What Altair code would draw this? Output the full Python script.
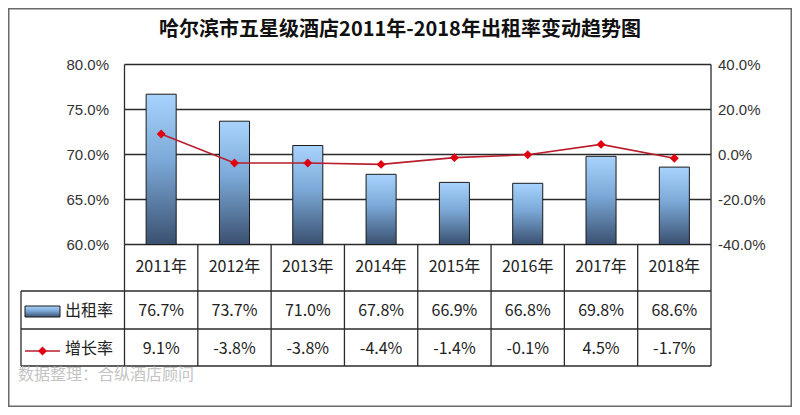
import altair as alt
import pandas as pd

# ---------------- data ----------------
years = ["2011年", "2012年", "2013年", "2014年", "2015年", "2016年", "2017年", "2018年"]
occupancy = [76.7, 73.7, 71.0, 67.8, 66.9, 66.8, 69.8, 68.6]
growth = [9.1, -3.8, -3.8, -4.4, -1.4, -0.1, 4.5, -1.7]
left_ticks = [80, 75, 70, 65, 60]
right_ticks = [40, 20, 0, -20, -40]
title_text = "哈尔滨市五星级酒店2011年-2018年出租率变动趋势图"
series_names = ["出租率", "增长率"]
source_note = "数据整理：合纵酒店顾问"

# ---------------- layout (chart pixel space) ----------------
W, H = 784, 399
PL, PR, PT, PB = 116.5, 703.0, 56.5, 236.5
R1, R2, R3 = 283.0, 321.0, 358.0
TL = 13.0
CJK = "Noto Sans CJK SC"
LAT = "Liberation Sans"

df = pd.DataFrame({"year": years, "occ": occupancy, "gr": growth})
df["occ_label"] = [f"{v:.1f}%" for v in occupancy]
df["gr_label"] = [f"{v:.1f}%" for v in growth]
df["base"] = 60

xs = alt.Scale(domain=years, range=[PL, PR], paddingInner=0, paddingOuter=0)
yl = alt.Scale(domain=[60, 80], range=[PB, PT], zero=False, nice=False)
yr = alt.Scale(domain=[-40, 40], range=[PB, PT], zero=False, nice=False)
X = alt.X("year:N", scale=xs, axis=None, sort=years)

grad = alt.Gradient(
    gradient="linear",
    stops=[
        alt.GradientStop(color="#a8d3fd", offset=0),
        alt.GradientStop(color="#7ba8d6", offset=0.45),
        alt.GradientStop(color="#3a5070", offset=1),
    ],
    x1=0, x2=0, y1=0, y2=1,
)

one = pd.DataFrame({"k": [0]})

# outer frame
frame = alt.Chart(one).mark_rect(fill="white", stroke="#6a6a6a", strokeWidth=1.5).encode(
    x=alt.value(0.75), x2=alt.value(W - 0.75), y=alt.value(0.75), y2=alt.value(H - 0.75)
)

# title
title = alt.Chart(one).mark_text(
    text=title_text, font=CJK, fontSize=20, fontWeight="bold", color="#111",
    align="center", baseline="middle"
).encode(x=alt.value(392), y=alt.value(22))

# gridlines (left scale)
grid_df = pd.DataFrame({"v": left_ticks})
grid = alt.Chart(grid_df).mark_rule(color="#2b2b2b", strokeWidth=1.3).encode(
    y=alt.Y("v:Q", scale=yl, axis=None), x=alt.value(PL), x2=alt.value(PR)
)

# axis labels
lab_l = alt.Chart(pd.DataFrame({"v": left_ticks, "t": [f"{v:.1f}%" for v in left_ticks]})).mark_text(
    align="right", baseline="middle", font=LAT, fontSize=15, color="#333"
).encode(y=alt.Y("v:Q", scale=yl, axis=None), x=alt.value(101), text="t:N")

lab_r = alt.Chart(pd.DataFrame({"v": right_ticks, "t": [f"{v:.1f}%" for v in right_ticks]})).mark_text(
    align="left", baseline="middle", font=LAT, fontSize=15, color="#333"
).encode(y=alt.Y("v:Q", scale=yr, axis=None), x=alt.value(710), text="t:N")

# bars
bars = alt.Chart(df).mark_bar(
    width=alt.RelativeBandSize(0.41), color=grad, stroke="#1a1a1a", strokeWidth=1
).encode(x=X, y=alt.Y("occ:Q", scale=yl, axis=None), y2="base:Q")

# growth line + points
line = alt.Chart(df).mark_line(color="#b81e2d", strokeWidth=1.6).encode(
    x=X, y=alt.Y("gr:Q", scale=yr, axis=None)
)
pts = alt.Chart(df).mark_point(shape="diamond", filled=True, color="#e00010", size=80, opacity=1).encode(
    x=X, y=alt.Y("gr:Q", scale=yr, axis=None)
)

# plot border and table lines
line_style = dict(color="#2b2b2b", strokeWidth=1.3)
plot_left = alt.Chart(one).mark_rule(**line_style).encode(x=alt.value(PL), y=alt.value(PT), y2=alt.value(PB))
plot_right = alt.Chart(one).mark_rule(**line_style).encode(x=alt.value(PR), y=alt.value(PT), y2=alt.value(R3))
col_lines = alt.Chart(df).mark_rule(**line_style).encode(
    x=alt.X("year:N", scale=xs, axis=None, bandPosition=0), y=alt.value(PB), y2=alt.value(R3)
)
h_rows = alt.Chart(pd.DataFrame({"r": [R1, R2, R3]})).mark_rule(**line_style).encode(
    y=alt.Y("r:Q", scale=alt.Scale(domain=[0, H], range=[0, H]), axis=None),
    x=alt.value(TL), x2=alt.value(PR)
)
table_left = alt.Chart(one).mark_rule(**line_style).encode(x=alt.value(TL), y=alt.value(R1), y2=alt.value(R3))

# table text
txt = dict(font=CJK, fontSize=16, color="#222", align="center", baseline="middle")
row_years = alt.Chart(df).mark_text(**txt).encode(x=X, y=alt.value(259), text="year:N")
row_occ = alt.Chart(df).mark_text(**txt).encode(x=X, y=alt.value(303), text="occ_label:N")
row_gr = alt.Chart(df).mark_text(**txt).encode(x=X, y=alt.value(341), text="gr_label:N")

# legend glyphs in the table
swatch = alt.Chart(one).mark_rect(color=grad, stroke="#1a1a1a", strokeWidth=1).encode(
    x=alt.value(17), x2=alt.value(52), y=alt.value(298), y2=alt.value(309)
)
leg_line = alt.Chart(one).mark_rule(color="#b81e2d", strokeWidth=1.6).encode(
    x=alt.value(17), x2=alt.value(52), y=alt.value(343)
)
leg_pt = alt.Chart(one).mark_point(shape="diamond", filled=True, color="#e00010", size=80, opacity=1).encode(
    x=alt.value(34.5), y=alt.value(343)
)
leg_names = alt.Chart(pd.DataFrame({"n": series_names, "yy": [303, 341]})).mark_text(
    font=CJK, fontSize=16, color="#222", align="left", baseline="middle"
).encode(
    x=alt.value(57),
    y=alt.Y("yy:Q", scale=alt.Scale(domain=[0, H], range=[0, H]), axis=None),
    text="n:N",
)

# source note
note = alt.Chart(one).mark_text(
    text=source_note, font=CJK, fontSize=16, color="#c4c4c4", align="left", baseline="middle"
).encode(x=alt.value(10), y=alt.value(367))

chart = alt.layer(
    frame, title, grid, bars, line, pts, lab_l, lab_r,
    plot_left, plot_right, col_lines, h_rows, table_left,
    row_years, row_occ, row_gr, swatch, leg_line, leg_pt, leg_names, note,
).resolve_scale(y="independent").properties(
    width=W, height=H, autosize=alt.AutoSizeParams(type="none"), padding=0, background="white"
).configure_view(stroke=None)

chart.save("out.html", embed_options={"renderer": "svg", "actions": False})
